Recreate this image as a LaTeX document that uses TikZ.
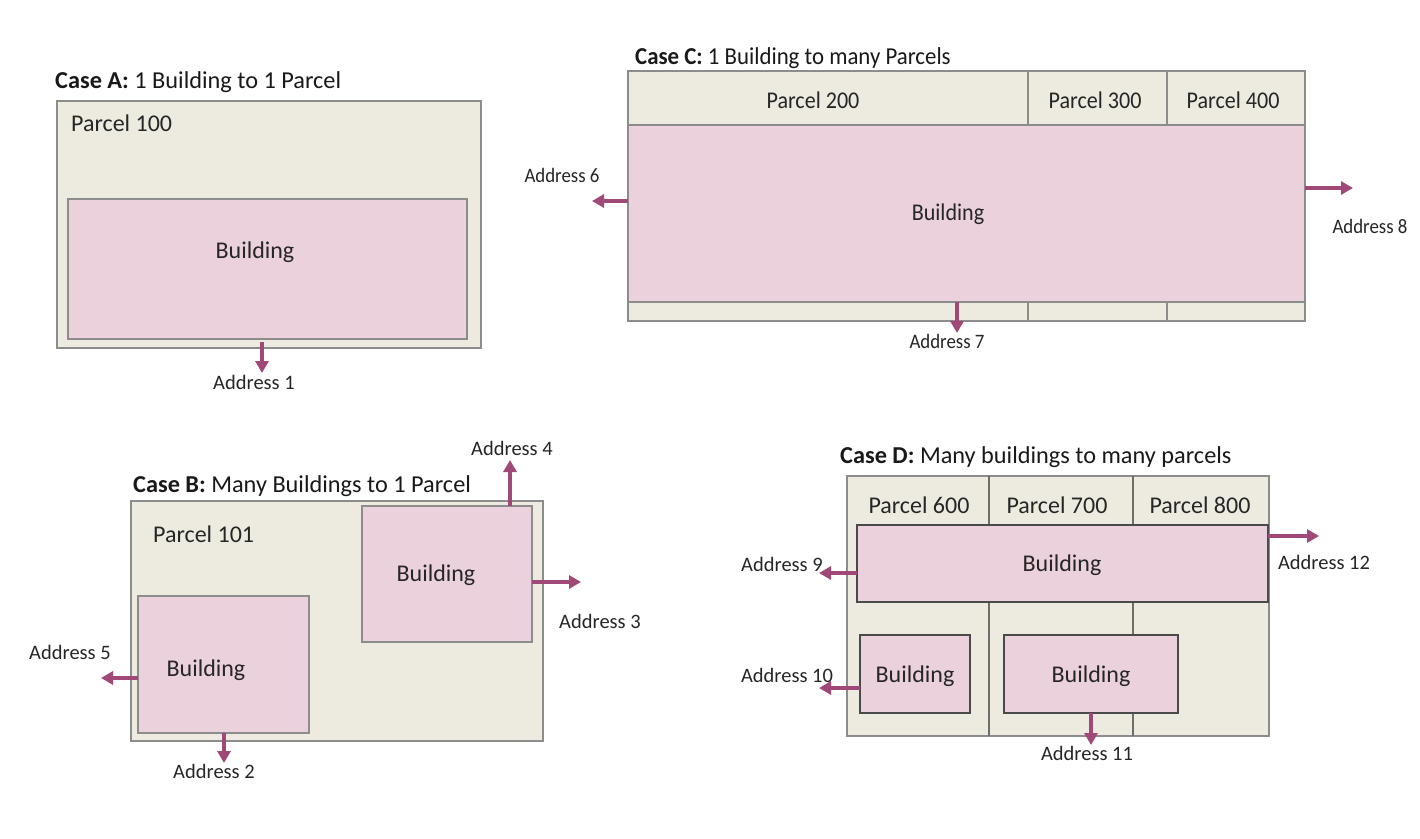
\documentclass[tikz,border=0pt]{standalone}
\usepackage{fontspec}
\setmainfont{Carlito}
\usetikzlibrary{arrows.meta}
\definecolor{parcelfill}{HTML}{EDEBE0}
\definecolor{bldfill}{HTML}{EBD1DC}
\definecolor{edgegray}{HTML}{8C8C8C}
\definecolor{darkedge}{HTML}{4A4A4A}
\definecolor{arr}{HTML}{A04878}
\newcommand{\cnd}[1]{\scalebox{0.92}[1]{#1}}
\newcommand{\cndt}[1]{\scalebox{0.94}[1]{#1}}
\tikzset{
  parcel/.style={draw=edgegray, fill=parcelfill, line width=2pt, rectangle, inner sep=0pt, outer sep=0pt, anchor=north west},
  bld/.style={draw=edgegray, fill=bldfill, line width=2pt, rectangle, inner sep=0pt, outer sep=0pt, anchor=north west},
  bldd/.style={bld, draw=darkedge},
  divider/.style={draw=edgegray, line width=2pt},
  divd/.style={draw=darkedge!80, line width=1.5pt},
  addr/.style={draw=arr, line width=3.2pt, -{Triangle[length=12pt,width=13pt]}},
  lbl/.style={font=\fontsize{24}{28}\selectfont, inner sep=0pt, text=black!85},
  adr/.style={font=\fontsize{20.5}{24}\selectfont, inner sep=0pt, text=black!85},
  ttl/.style={font=\fontsize{24.3}{28}\selectfont, inner sep=0pt, anchor=west, text=black!90}
}
\begin{document}
\begin{tikzpicture}[x=1pt,y=-1pt]
\useasboundingbox[fill=white] (0,0) rectangle (1420,838);

% ---------------- Case A
\node[ttl] (tA) at (55,82) {\textbf{Case A:} 1 Building to 1 Parcel};
\node[parcel, minimum width=424pt, minimum height=247pt] (pA) at (57,101) {};
\node[lbl, anchor=west] (pA-l) at (71,123) {Parcel 100};
\node[bld, minimum width=399pt, minimum height=140pt] (bA) at (68,199) {};
\node[lbl] (bA-l) at (255,252) {Building};
\coordinate (a1s) at (262,342);
\node[adr] (ad1) at (254,382) {Address 1};
\coordinate (a1e) at (262,373);
\draw[addr] (a1s) -- (a1e);

% ---------------- Case C
\node[ttl] (tC) at (635,58) {\cndt{\textbf{Case C:} 1 Building to many Parcels}};
\node[parcel, minimum width=677pt, minimum height=250pt] (pC) at (628,71) {};
\draw[divider] (1028,71) -- (1028,321);
\draw[divider] (1167,71) -- (1167,321);
\node[lbl] (p200) at (813,100) {\cnd{Parcel 200}};
\node[lbl] (p300) at (1095,100) {\cnd{Parcel 300}};
\node[lbl] (p400) at (1233,100) {\cnd{Parcel 400}};
\node[bld, minimum width=677pt, minimum height=177pt] (bC) at (628,125) {};
\node[lbl] (bC-l) at (948,214) {\cnd{Building}};
\coordinate (a6s) at (628,201);
\coordinate (a6e) at (592,201);
\draw[addr] (a6s) -- (a6e);
\node[adr] (ad6) at (562,175) {\cnd{Address 6}};
\coordinate (a8s) at (1305,188);
\coordinate (a8e) at (1353,188);
\draw[addr] (a8s) -- (a8e);
\node[adr] (ad8) at (1370,226) {\cnd{Address 8}};
\coordinate (a7s) at (957,302);
\coordinate (a7e) at (957,333);
\draw[addr] (a7s) -- (a7e);
\node[adr] (ad7) at (947,341) {\cnd{Address 7}};

% ---------------- Case B
\node[ttl] (tB) at (133,486) {\textbf{Case B:} Many Buildings to 1 Parcel};
\node[parcel, minimum width=412pt, minimum height=240pt] (pB) at (131,501) {};
\node[lbl, anchor=west] (pB-l) at (153,534) {Parcel 101};
\node[bld, minimum width=170pt, minimum height=136pt] (bB1) at (362,506) {};
\node[lbl] (bB1-l) at (436,575) {Building};
\node[bld, minimum width=171pt, minimum height=137pt] (bB2) at (138,596) {};
\node[lbl] (bB2-l) at (206,670) {Building};
\coordinate (a4s) at (510,506);
\coordinate (a4e) at (510,460);
\draw[addr] (a4s) -- (a4e);
\node[adr] (ad4) at (512,448) {Address 4};
\coordinate (a3s) at (532,582);
\coordinate (a3e) at (581,582);
\draw[addr] (a3s) -- (a3e);
\node[adr] (ad3) at (600,621) {Address 3};
\coordinate (a5s) at (138,678);
\coordinate (a5e) at (101,678);
\draw[addr] (a5s) -- (a5e);
\node[adr] (ad5) at (70,652) {Address 5};
\coordinate (a2s) at (224,733);
\coordinate (a2e) at (224,763);
\draw[addr] (a2s) -- (a2e);
\node[adr] (ad2) at (214,771) {Address 2};

% ---------------- Case D
\node[ttl] (tD) at (840,457) {\textbf{Case D:} Many buildings to many parcels};
\node[parcel, minimum width=422pt, minimum height=260pt] (pD) at (847,476) {};
\draw[divd] (989,476) -- (989,736);
\draw[divd] (1133,476) -- (1133,736);
\node[lbl] (p600) at (919,505) {Parcel 600};
\node[lbl] (p700) at (1057,505) {Parcel 700};
\node[lbl] (p800) at (1200,505) {Parcel 800};
\node[bldd, minimum width=411pt, minimum height=77pt] (bD1) at (857,525) {};
\node[lbl] (bD1-l) at (1062,565) {Building};
\node[bldd, minimum width=110pt, minimum height=78pt] (bD2) at (860,635) {};
\node[lbl] (bD2-l) at (915,676) {Building};
\node[bldd, minimum width=174pt, minimum height=78pt] (bD3) at (1004,635) {};
\node[lbl] (bD3-l) at (1091,676) {Building};
\coordinate (a9s) at (857,573);
\coordinate (a9e) at (819,573);
\draw[addr] (a9s) -- (a9e);
\node[adr] (ad9) at (782,564) {Address 9};
\coordinate (a12s) at (1268,536);
\coordinate (a12e) at (1319,536);
\draw[addr] (a12s) -- (a12e);
\node[adr] (ad12) at (1324,562) {Address 12};
\coordinate (a10s) at (860,688);
\coordinate (a10e) at (819,688);
\draw[addr] (a10s) -- (a10e);
\node[adr] (ad10) at (787,675) {Address 10};
\coordinate (a11s) at (1091,713);
\coordinate (a11e) at (1091,745);
\draw[addr] (a11s) -- (a11e);
\node[adr] (ad11) at (1087,753) {Address 11};
\end{tikzpicture}
\end{document}
